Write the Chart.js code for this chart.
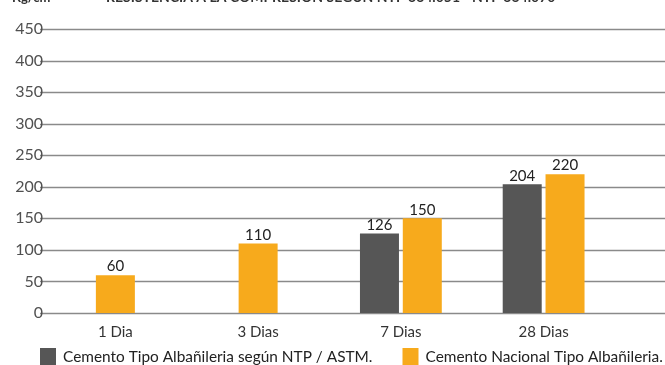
<!DOCTYPE html>
<html>
<head>
<meta charset="utf-8">
<script src="https://cdn.jsdelivr.net/npm/chart.js@4/dist/chart.umd.min.js"></script>
<style>
  html, body { margin: 0; padding: 0; background: #fff; overflow: hidden; }
  #wrap { position: relative; width: 665px; height: 365px; }
</style>
</head>
<body>
<div id="wrap"><canvas id="c" width="665" height="365"></canvas></div>
<script>
// Ages of the test specimens
const categories = ['1 Dia', '3 Dias', '7 Dias', '28 Dias'];
// Compressive strength (kg/cm²)
const normaValues = [null, null, 126, 204];
const nacionalValues = [60, 110, 150, 220];
const seriesNames = ['Cemento Tipo Albañileria según NTP / ASTM.', 'Cemento Nacional Tipo Albañileria.'];
const yMax = 450;
const yStep = 50;
const unitLabel = 'Kg/cm²';
const titleText = 'RESISTENCIA A LA COMPRESIÓN SEGÚN NTP 334.051 - NTP 334.070';

const DARK = '#565656';
const ORANGE = '#F7AA1C';

// Horizontal rules across the whole width, under the tick labels and bars
const ruleLines = {
  id: 'ruleLines',
  beforeDraw(chart) {
    const { ctx, chartArea, scales } = chart;
    const y = scales.y;
    ctx.save();
    ctx.strokeStyle = '#8a8a8a';
    ctx.lineWidth = 1.7;
    y.ticks.forEach(t => {
      const py = Math.round(y.getPixelForValue(t.value)) + 0.5;
      ctx.beginPath();
      ctx.moveTo(chartArea.left - 4, py);
      ctx.lineTo(chart.width, py);
      ctx.stroke();
    });
    ctx.restore();
  }
};

// Value printed above each bar
const barValues = {
  id: 'barValues',
  afterDatasetsDraw(chart) {
    const { ctx } = chart;
    ctx.save();
    ctx.font = '15px Lato';
    ctx.fillStyle = '#222';
    ctx.textAlign = 'center';
    ctx.textBaseline = 'bottom';
    chart.data.datasets.forEach((ds, di) => {
      const meta = chart.getDatasetMeta(di);
      meta.data.forEach((bar, i) => {
        const v = ds.data[i];
        if (v === null || v === undefined) return;
        ctx.fillText(String(v), bar.x, bar.y - 1);
      });
    });
    ctx.restore();
  }
};

// Heading line at the top edge
const heading = {
  id: 'heading',
  afterDraw(chart) {
    const { ctx } = chart;
    ctx.save();
    ctx.fillStyle = '#333';
    ctx.textBaseline = 'alphabetic';
    ctx.font = 'bold 13px Lato';
    ctx.fillText(unitLabel, 12, 2);
    ctx.font = 'bold 14px Lato';
    ctx.fillText(titleText, 106, 2);
    ctx.restore();
  }
};

// Series key in one row along the bottom edge
const keyRow = {
  id: 'keyRow',
  afterDraw(chart) {
    const { ctx, chartArea } = chart;
    const boxW = 16, boxH = 17, gap = 7, spacing = 30;
    const top = chart.height - boxH;
    let x = chartArea.left - 4;
    ctx.save();
    ctx.font = '15.4px Lato';
    ctx.textBaseline = 'middle';
    ctx.textAlign = 'left';
    chart.data.datasets.forEach(ds => {
      ctx.fillStyle = ds.backgroundColor;
      ctx.fillRect(x, top, boxW, boxH);
      ctx.fillStyle = '#222';
      ctx.fillText(ds.label, x + boxW + gap, top + boxH / 2 + 1);
      x += boxW + gap + ctx.measureText(ds.label).width + spacing;
    });
    ctx.restore();
  }
};

new Chart(document.getElementById('c'), {
  type: 'bar',
  data: {
    labels: categories,
    datasets: [
      {
        label: seriesNames[0],
        data: normaValues,
        backgroundColor: DARK,
        borderColor: DARK,
        borderWidth: 0,
        skipNull: true
      },
      {
        label: seriesNames[1],
        data: nacionalValues,
        backgroundColor: ORANGE,
        borderColor: ORANGE,
        borderWidth: 0,
        skipNull: true
      }
    ]
  },
  options: {
    responsive: false,
    animation: false,
    devicePixelRatio: 1,
    layout: { padding: { top: 29, left: 0, right: 0, bottom: 22 } },
    datasets: {
      bar: {
        categoryPercentage: 0.6,
        barPercentage: 1,
        maxBarThickness: 39
      }
    },
    scales: {
      x: {
        type: 'category',
        offset: true,
        grid: { display: false },
        border: { display: false },
        ticks: {
          color: '#333',
          font: { family: 'Lato', size: 15 },
          padding: 2,
          maxRotation: 0
        }
      },
      y: {
        type: 'linear',
        min: 0,
        max: yMax,
        grid: { display: false, drawTicks: false },
        border: { display: false },
        ticks: {
          stepSize: yStep,
          color: '#505050',
          font: { family: 'Lato', size: 16 },
          padding: 1
        },
        afterFit(s) { s.width = 44; }
      },
      yRight: {
        type: 'linear',
        position: 'right',
        display: true,
        grid: { display: false, drawTicks: false },
        border: { display: false },
        ticks: { display: false },
        afterFit(s) { s.width = 50; }
      }
    },
    plugins: {
      legend: { display: false },
      title: { display: false },
      tooltip: { enabled: false }
    }
  },
  plugins: [ruleLines, barValues, heading, keyRow]
});
</script>
</body>
</html>
